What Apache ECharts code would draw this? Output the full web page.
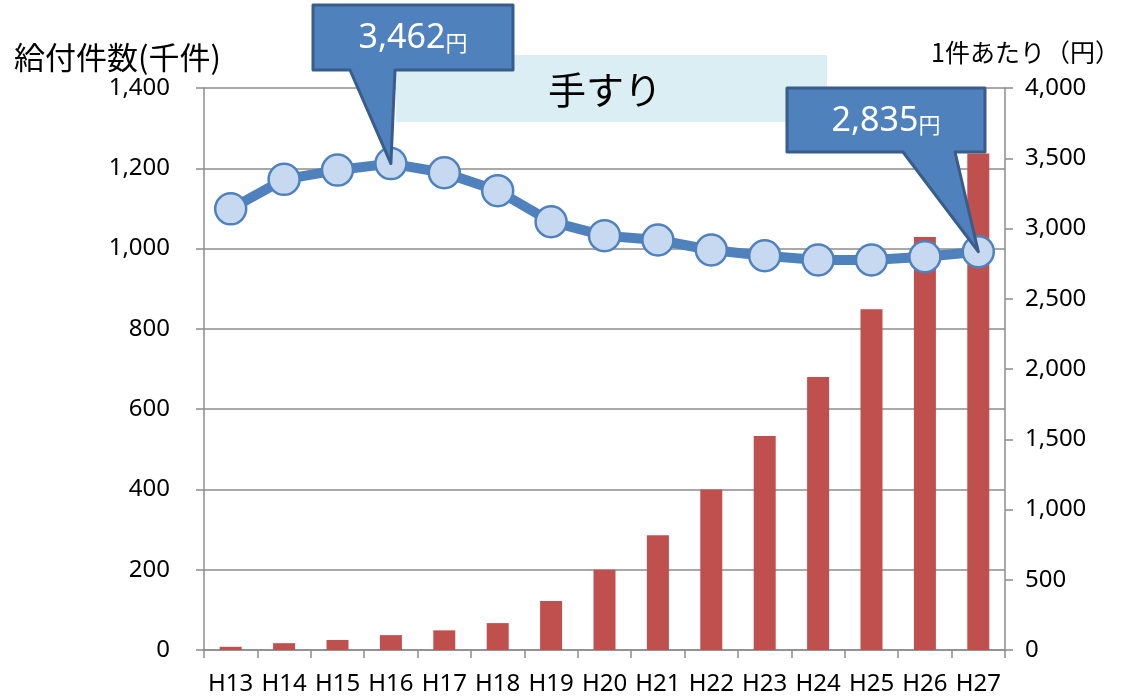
<!DOCTYPE html>
<html><head><meta charset="utf-8">
<script src="https://cdn.jsdelivr.net/npm/echarts@6/dist/echarts.min.js"></script>
<style>html,body{margin:0;padding:0;background:#fff}#c{width:1127px;height:699px}</style>
</head><body><div id="c"></div>
<script>
const categories = ['H13','H14','H15','H16','H17','H18','H19','H20','H21','H22','H23','H24','H25','H26','H27'];
const countValues = [8, 17, 25, 37, 49, 67, 122, 200, 286, 400, 533, 680, 849, 1029, 1237];
const unitValues = [3140, 3350, 3416, 3462, 3397, 3269, 3048, 2949, 2918, 2847, 2806, 2776, 2776, 2799, 2835];
const leftTicks = {min: 0, max: 1400, interval: 200};
const rightTicks = {min: 0, max: 4000, interval: 500};
const leftTitle = '給付件数(千件)';
const rightTitle = '1件あたり（円）';
const boxTitle = '手すり';
const callouts = [
  {cat: 'H16', value: 3462, text: '3,462'},
  {cat: 'H27', value: 2835, text: '2,835'}
];

const FONT = "'Noto Sans', 'Noto Sans CJK JP', sans-serif";
const chart = echarts.init(document.getElementById('c'), null, {renderer: 'canvas'});
const gray = '#8c8c8c';
chart.setOption({
  animation: false,
  textStyle: {fontFamily: FONT},
  grid: {left: 204, right: 122, top: 88, bottom: 49, containLabel: false},
  xAxis: {
    type: 'category', data: categories,
    axisLine: {lineStyle: {color: gray, width: 1.5}},
    axisTick: {show: true, length: 8, lineStyle: {color: gray, width: 1.5}},
    axisLabel: {color: '#000', fontSize: 24, margin: 22, fontFamily: FONT, interval: 0}
  },
  yAxis: [
    {type: 'value', min: leftTicks.min, max: leftTicks.max, interval: leftTicks.interval,
     axisLine: {show: true, lineStyle: {color: gray, width: 1.5}},
     axisTick: {show: true, length: 8, lineStyle: {color: gray, width: 1.5}},
     axisLabel: {color: '#000', fontSize: 24, margin: 34, fontFamily: FONT,
       formatter: v => v.toLocaleString('en-US')},
     splitLine: {show: true, lineStyle: {color: gray, width: 1.5}}},
    {type: 'value', min: rightTicks.min, max: rightTicks.max, interval: rightTicks.interval,
     position: 'right',
     axisLine: {show: true, lineStyle: {color: gray, width: 1.5}},
     axisTick: {show: true, length: 8, lineStyle: {color: gray, width: 1.5}},
     axisLabel: {color: '#000', fontSize: 24, margin: 20, fontFamily: FONT,
       formatter: v => v.toLocaleString('en-US')},
     splitLine: {show: false}}
  ],
  series: [
    {type: 'bar', data: countValues, yAxisIndex: 0, barWidth: 22,
     itemStyle: {color: '#C0504D'}, z: 2},
    {type: 'line', data: unitValues, yAxisIndex: 1, symbol: 'circle', symbolSize: 31,
     lineStyle: {color: '#4F81BD', width: 10},
     itemStyle: {color: '#C6D9F1', borderColor: '#4F81BD', borderWidth: 2.5}, z: 3}
  ]
});

function build() {
  const g = [];
  g.push({type: 'text', left: 14, top: 42, z: 10,
    style: {text: leftTitle, font: "31px 'Noto Sans CJK JP'", fill: '#000'}});
  g.push({type: 'text', left: 931, top: 40, z: 10,
    style: {text: rightTitle, font: "25px 'Noto Sans CJK JP'", fill: '#000'}});
  g.push({type: 'rect', z: 5, shape: {x: 396, y: 55, width: 431, height: 67},
    style: {fill: '#DAEEF3'}});
  g.push({type: 'text', z: 6, x: 605, y: 90,
    style: {text: boxTitle, font: "38px 'Noto Sans CJK JP'", fill: '#000', align: 'center', verticalAlign: 'middle'}});
  const boxes = [
    {x0: 313, x1: 513, y0: 5, y1: 70, b0: 350, b1: 395},
    {x0: 787, x1: 985, y0: 88, y1: 152, b0: 903, b1: 955}
  ];
  callouts.forEach((c, i) => {
    const tip = chart.convertToPixel({xAxisIndex: 0, yAxisIndex: 1}, [c.cat, c.value]);
    const b = boxes[i];
    g.push({type: 'polygon', z: 20,
      shape: {points: [[b.x0, b.y0], [b.x1, b.y0], [b.x1, b.y1], [b.b1, b.y1], tip, [b.b0, b.y1], [b.x0, b.y1]]},
      style: {fill: '#4F81BD', stroke: '#385D8A', lineWidth: 3, lineJoin: 'round'}});
    g.push({type: 'text', z: 21, x: (b.x0 + b.x1) / 2, y: (b.y0 + b.y1) / 2 + 1,
      style: {text: '{n|' + c.text + '}{y|円}', align: 'center', verticalAlign: 'middle',
        rich: {n: {fontSize: 34, fontFamily: FONT, fill: '#fff', color: '#fff'},
               y: {fontSize: 22, fontFamily: "'Noto Sans CJK JP'", fill: '#fff', color: '#fff', padding: [8, 0, 0, 0]}}}});
  });
  chart.setOption({graphic: g});
}
build();
</script></body></html>
